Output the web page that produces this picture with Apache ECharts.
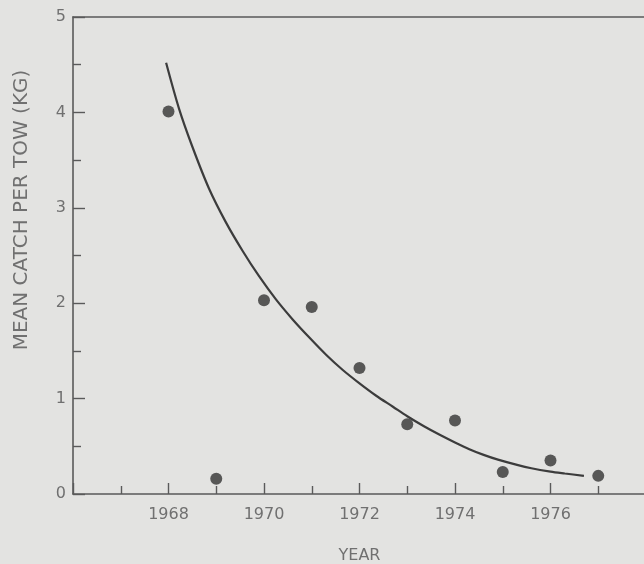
<!DOCTYPE html>
<html>
<head>
<meta charset="utf-8">
<script src="https://cdn.jsdelivr.net/npm/echarts@6/dist/echarts.min.js"></script>
<style>
  html, body { margin: 0; padding: 0; background: #e3e3e1; }
  #chart { width: 644px; height: 564px; }
</style>
</head>
<body>
<div id="chart"></div>
<script>
// Annual survey: mean catch per tow (kg)
const years = [1968, 1969, 1970, 1971, 1972, 1973, 1974, 1975, 1976, 1977];
const catchKg = [4.01, 0.16, 2.03, 1.96, 1.32, 0.73, 0.77, 0.23, 0.35, 0.19];

// Fitted decline curve, sampled along its length
const fitYears = [1967.95, 1968.22, 1968.5, 1968.85, 1969.2, 1969.55, 1969.9, 1970.25, 1970.6,
                  1970.95, 1971.3, 1971.65, 1972.0, 1972.35, 1972.7, 1973.0, 1973.35, 1973.7,
                  1974.0, 1974.3, 1974.6, 1974.9, 1975.3, 1975.6, 1976.0, 1976.3, 1976.7];
const fitKg = [4.52, 4.04, 3.64, 3.20, 2.85, 2.55, 2.28, 2.04, 1.83, 1.64, 1.46, 1.30, 1.16,
               1.03, 0.915, 0.815, 0.71, 0.615, 0.54, 0.47, 0.41, 0.36, 0.305, 0.27, 0.235, 0.215, 0.19];

const yearLabels = [1968, 1970, 1972, 1974, 1976];
const yTicks = [0, 1, 2, 3, 4, 5];

const textColor = '#707070';
const axisColor = '#5a5a5a';
const font = 'DejaVu Sans';

const chart = echarts.init(document.getElementById('chart'));
chart.setOption({
  backgroundColor: '#e3e3e1',
  animation: false,
  grid: { left: 73, right: -2, top: 17, bottom: 70, containLabel: false, outerBoundsMode: 'none' },
  xAxis: [{
    type: 'value',
    min: 1966, max: 1978, interval: 2,
    name: 'YEAR',
    nameLocation: 'middle',
    nameGap: 54,
    nameTextStyle: { color: textColor, fontFamily: font, fontSize: 16 },
    axisLine: { lineStyle: { color: axisColor, width: 1.6 } },
    axisTick: { inside: true, length: 11, lineStyle: { color: axisColor, width: 1.4 } },
    minorTick: { show: true, splitNumber: 2, length: 8, lineStyle: { color: axisColor, width: 1.4 } },
    splitLine: { show: false },
    axisLabel: {
      color: textColor, fontFamily: font, fontSize: 16, margin: 13,
      formatter: v => (yearLabels.indexOf(v) >= 0 ? String(v) : '')
    }
  }, {
    type: 'value',
    position: 'top',
    min: 1966, max: 1978,
    axisLine: { lineStyle: { color: axisColor, width: 1.6 } },
    axisTick: { show: false },
    axisLabel: { show: false },
    splitLine: { show: false }
  }],
  yAxis: {
    type: 'value',
    min: 0, max: 5, interval: 1,
    axisLine: { show: true, lineStyle: { color: axisColor, width: 1.6 } },
    axisTick: { inside: true, length: 12, lineStyle: { color: axisColor, width: 1.4 } },
    minorTick: { show: true, splitNumber: 2, length: 8, lineStyle: { color: axisColor, width: 1.4 } },
    splitLine: { show: false },
    axisLabel: {
      color: textColor, fontFamily: font, fontSize: 16, margin: 7,
      formatter: v => (yTicks.indexOf(v) >= 0 ? String(v) : '')
    }
  },
  graphic: [{
    type: 'text',
    x: 22, y: 210,
    rotation: Math.PI / 2,
    style: {
      text: 'MEAN CATCH PER TOW (KG)',
      fill: textColor,
      font: '20px "DejaVu Sans"',
      align: 'center',
      verticalAlign: 'middle'
    }
  }],
  series: [{
    type: 'line',
    data: fitYears.map((t, i) => [t, fitKg[i]]),
    smooth: 0.3,
    showSymbol: false,
    lineStyle: { color: '#3c3c3c', width: 2.2 },
    z: 2
  }, {
    type: 'scatter',
    data: years.map((t, i) => [t, catchKg[i]]),
    symbol: 'circle',
    symbolSize: 12,
    itemStyle: { color: '#333333' },
    z: 3
  }]
});
</script>
</body>
</html>
